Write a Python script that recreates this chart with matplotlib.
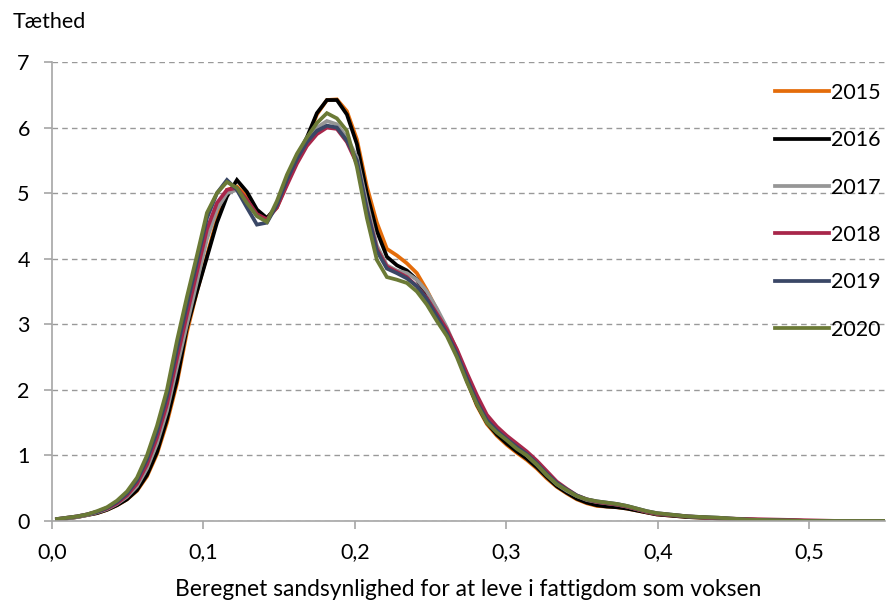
import matplotlib.pyplot as plt
from matplotlib.ticker import FuncFormatter

plt.rcParams['font.family'] = ['Lato', 'DejaVu Sans']

# x-værdier (beregnet sandsynlighed)
x = [0.0033, 0.0099, 0.0165, 0.0231, 0.0297, 0.0363, 0.0429, 0.0495, 0.0561, 0.0627,
     0.0693, 0.0759, 0.0825, 0.0891, 0.0957, 0.1023, 0.1089, 0.1155, 0.1221, 0.1287,
     0.1353, 0.1419, 0.1485, 0.1551, 0.1617, 0.1683, 0.1749, 0.1815, 0.1881, 0.1947,
     0.2013, 0.2079, 0.2145, 0.2211, 0.2277, 0.2343, 0.2409, 0.2475, 0.2541, 0.2607,
     0.2673, 0.2739, 0.2805, 0.2871, 0.2937, 0.3003, 0.3069, 0.3135, 0.3201, 0.3267,
     0.3333, 0.3399, 0.3465, 0.3531, 0.3597, 0.3663, 0.3729, 0.3795, 0.3861, 0.3927,
     0.3993, 0.42, 0.44, 0.46, 0.48, 0.50, 0.52, 0.55]

# Tæthed pr. år
y2015 = [0.02, 0.04, 0.06, 0.09, 0.12, 0.17, 0.24, 0.33, 0.46, 0.68,
         1.02, 1.5, 2.1, 2.88, 3.5, 4.05, 4.6, 5.05, 5.1, 4.95,
         4.7, 4.62, 4.78, 5.15, 5.5, 5.82, 6.2, 6.42, 6.43, 6.25,
         5.82, 5.1, 4.55, 4.15, 4.05, 3.93, 3.78, 3.52, 3.22, 2.9,
         2.55, 2.14, 1.76, 1.48, 1.3, 1.16, 1.04, 0.93, 0.8, 0.65,
         0.52, 0.42, 0.33, 0.27, 0.23, 0.22, 0.21, 0.19, 0.16, 0.13,
         0.10, 0.06, 0.04, 0.02, 0.01, 0.0, 0.0, 0.0]
y2016 = [0.02, 0.04, 0.06, 0.09, 0.12, 0.17, 0.24, 0.33, 0.47, 0.7,
         1.05, 1.55, 2.15, 2.95, 3.5, 4.02, 4.55, 4.95, 5.2, 5.02,
         4.75, 4.62, 4.8, 5.2, 5.55, 5.85, 6.22, 6.42, 6.42, 6.2,
         5.75, 5.0, 4.42, 4.03, 3.9, 3.82, 3.68, 3.45, 3.18, 2.9,
         2.55, 2.15, 1.78, 1.5, 1.32, 1.18, 1.06, 0.95, 0.82, 0.67,
         0.53, 0.43, 0.34, 0.28, 0.24, 0.22, 0.21, 0.19, 0.16, 0.13,
         0.10, 0.06, 0.04, 0.02, 0.01, 0.0, 0.0, 0.0]
y2017 = [0.02, 0.04, 0.06, 0.09, 0.13, 0.18, 0.26, 0.37, 0.53, 0.8,
         1.18, 1.68, 2.35, 3.0, 3.65, 4.3, 4.75, 5.0, 5.05, 4.88,
         4.65, 4.58, 4.82, 5.2, 5.55, 5.82, 6.0, 6.1, 6.05, 5.85,
         5.55, 4.85, 4.2, 3.9, 3.82, 3.78, 3.68, 3.5, 3.24, 2.95,
         2.6, 2.2, 1.84, 1.55, 1.38, 1.25, 1.12, 1.0, 0.86, 0.7,
         0.56, 0.46, 0.38, 0.32, 0.29, 0.27, 0.25, 0.22, 0.18, 0.14,
         0.11, 0.07, 0.04, 0.02, 0.01, 0.0, 0.0, 0.0]
y2018 = [0.03, 0.05, 0.07, 0.10, 0.14, 0.19, 0.27, 0.39, 0.57, 0.86,
         1.27, 1.78, 2.48, 3.15, 3.8, 4.45, 4.85, 5.05, 5.08, 4.9,
         4.68, 4.6, 4.78, 5.12, 5.45, 5.72, 5.9, 6.0, 5.98, 5.78,
         5.45, 4.75, 4.15, 3.88, 3.8, 3.72, 3.58, 3.4, 3.16, 2.92,
         2.62, 2.26, 1.92, 1.62, 1.44, 1.3, 1.18, 1.06, 0.92, 0.76,
         0.6, 0.49, 0.39, 0.33, 0.29, 0.27, 0.25, 0.22, 0.18, 0.14,
         0.11, 0.07, 0.04, 0.03, 0.02, 0.01, 0.0, 0.0]
y2019 = [0.03, 0.05, 0.07, 0.10, 0.14, 0.20, 0.29, 0.42, 0.62, 0.94,
         1.36, 1.9, 2.62, 3.3, 3.95, 4.62, 5.0, 5.2, 5.05, 4.78,
         4.52, 4.55, 4.82, 5.2, 5.52, 5.78, 5.95, 6.03, 6.0, 5.8,
         5.5, 4.75, 4.12, 3.85, 3.78, 3.7, 3.58, 3.38, 3.12, 2.86,
         2.55, 2.18, 1.82, 1.54, 1.38, 1.25, 1.13, 1.02, 0.88, 0.72,
         0.58, 0.48, 0.39, 0.33, 0.30, 0.28, 0.26, 0.23, 0.19, 0.15,
         0.12, 0.07, 0.05, 0.02, 0.01, 0.0, 0.0, 0.0]
y2020 = [0.03, 0.05, 0.07, 0.10, 0.15, 0.21, 0.31, 0.45, 0.66, 1.0,
         1.45, 2.0, 2.75, 3.42, 4.05, 4.7, 5.0, 5.17, 5.08, 4.85,
         4.65, 4.56, 4.88, 5.28, 5.6, 5.85, 6.07, 6.22, 6.14, 5.95,
         5.4, 4.62, 3.98, 3.72, 3.68, 3.63, 3.5, 3.3, 3.05, 2.82,
         2.5, 2.12, 1.78, 1.5, 1.35, 1.23, 1.1, 1.0, 0.86, 0.7,
         0.56, 0.47, 0.38, 0.33, 0.30, 0.28, 0.26, 0.23, 0.19, 0.15,
         0.12, 0.07, 0.05, 0.02, 0.01, 0.0, 0.0, 0.0]

years = ['2015', '2016', '2017', '2018', '2019', '2020']
series = [y2015, y2016, y2017, y2018, y2019, y2020]
colors = ['#E46C0A', '#000000', '#969696', '#A8264A', '#3A4766', '#6B7A36']

fs = 15.5

fig = plt.figure(figsize=(8.87, 6.03), dpi=100)
ax = fig.add_axes([52/887, 82/603, 833/887, 459/603])

for yr, ys, c in zip(years, series, colors):
    ax.plot(x, ys, color=c, lw=2.7, label=yr, solid_joinstyle='miter')

ax.set_xlim(0, 0.55)
ax.set_ylim(0, 7)
ax.set_xticks([0, 0.1, 0.2, 0.3, 0.4, 0.5])
ax.set_yticks(range(0, 8))
ax.xaxis.set_major_formatter(FuncFormatter(lambda v, p: f"{v:.1f}".replace('.', ',')))

ax.grid(axis='y', color='#999999', linestyle=(0, (4, 3)), lw=1)
ax.set_axisbelow(True)
for s in ['top', 'right']:
    ax.spines[s].set_visible(False)
for s in ['left', 'bottom']:
    ax.spines[s].set_color('#A6A6A6')
    ax.spines[s].set_linewidth(1.2)
ax.tick_params(axis='both', colors='#A6A6A6', length=6, width=1.2, labelsize=fs,
               labelcolor='black')
ax.tick_params(axis='y', pad=10)
ax.tick_params(axis='x', pad=9)

ax.set_xlabel("Beregnet sandsynlighed for at leve i fattigdom som voksen", fontsize=16.4, labelpad=12)
fig.text(13/887, 1 - 22/603, "Tæthed", fontsize=fs, va='center', ha='left')

ax.legend(loc='upper left', bbox_to_anchor=(775/887, 1 - 83/603), bbox_transform=fig.transFigure,
          frameon=False, fontsize=fs, handlelength=2.5, handletextpad=0.12,
          labelspacing=1.27, borderpad=0, borderaxespad=0)

fig.savefig('out.png', dpi=100)
